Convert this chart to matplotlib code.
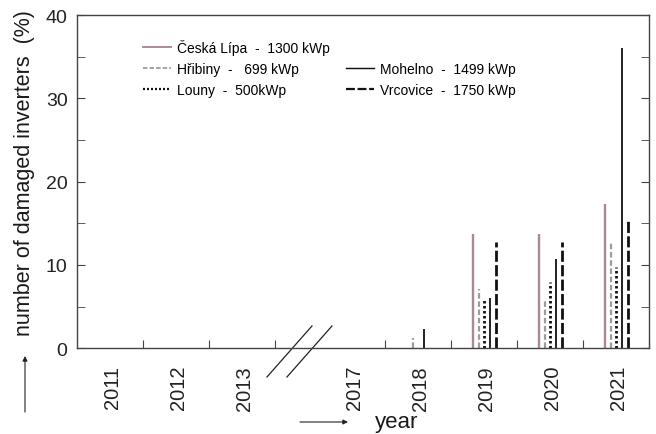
import numpy as np
import matplotlib
matplotlib.use("Agg")
import matplotlib.pyplot as plt
from matplotlib.lines import Line2D
from matplotlib.patches import FancyArrowPatch
from matplotlib.transforms import blended_transform_factory

plt.rcParams['font.family'] = ['Liberation Sans', 'DejaVu Sans']

# ====== data ======
years = ['2011', '2012', '2013', '2017', '2018', '2019', '2020', '2021']
ceska_lipa = [0, 0, 0, 0, 0.0, 13.7, 13.7, 17.3]
hribiny = [0, 0, 0, 0, 1.2, 7.1, 5.7, 12.6]
louny = [0, 0, 0, 0, 0.0, 6.0, 8.0, 9.7]
mohelno = [0, 0, 0, 0, 2.3, 6.0, 10.7, 36.0]
vrcovice = [0, 0, 0, 0, 0.0, 12.8, 12.8, 15.3]

series_labels = ['Česká Lípa  -  1300 kWp',
                 'Hřibiny  -   699 kWp',
                 'Louny  -  500kWp',
                 'Mohelno  -  1499 kWp',
                 'Vrcovice  -  1750 kWp']

# category axis with a broken gap between 2013 and 2017
gap = 0.667
xpos = np.array([0.5, 1.5, 2.5] + [3.5 + gap + i for i in range(5)])
bounds = [1, 2, 3] + [3 + gap + i for i in range(1, 6)]
xmax = 8 + gap

styles = [
    dict(color='#a88a90', lw=1.7, ls='-'),
    dict(color='#9c9c9c', lw=1.6, ls=(0, (2.5, 1.2))),
    dict(color='#111111', lw=2.0, ls=(0, (0.9, 0.9))),
    dict(color='#111111', lw=1.3, ls='-'),
    dict(color='#111111', lw=2.0, ls=(0, (4, 1.2))),
]
offsets = np.array([-2, -1, 0, 1, 2]) * 0.087

fig = plt.figure(figsize=(6.56, 4.35), dpi=100)
ax = fig.add_axes([0.1178, 0.197, 0.8720, 0.7662])

all_series = [ceska_lipa, hribiny, louny, mohelno, vrcovice]
handles = []
for vals, st, off, lab in zip(all_series, styles, offsets, series_labels):
    vals = np.array(vals, dtype=float)
    m = vals > 0
    ax.vlines(xpos[m] + off, 0, vals[m], colors=st['color'],
              linewidth=st['lw'], linestyles=[st['ls']])
    handles.append(Line2D([], [], color=st['color'], lw=st['lw'] * 0.8,
                          ls=st['ls'], label=lab))

ax.set_xlim(0, xmax)
ax.set_ylim(0, 40)

# y axis: ticks every 5, labels every 10, both sides, inward
ax.set_yticks(np.arange(0, 41, 10))
ax.set_yticks(np.arange(5, 40, 10), minor=True)
ax.tick_params(axis='y', which='both', direction='in', length=6,
               left=True, right=True, labelsize=14, pad=7,
               colors='#444444', labelcolor='#222222')

# x axis: ticks on category bounds, labels at centres
ax.set_xticks(bounds)
ax.set_xticklabels([])
ax.set_xticks(xpos + 0.04, minor=True)
ax.set_xticklabels(years, minor=True, rotation=90, fontsize=14.5,
                   color='#222222')
ax.tick_params(axis='x', which='major', direction='in', length=6,
               colors='#444444')
ax.tick_params(axis='x', which='minor', length=0, pad=12)

for sp in ax.spines.values():
    sp.set_color('#444444')
    sp.set_linewidth(1.0)

# axis break marks
tr = blended_transform_factory(ax.transData, ax.transAxes)
for x0, x1 in [(2.874, 3.556), (3.177, 3.859)]:
    ax.add_line(Line2D([x0, x1], [-0.086, 0.067], transform=tr,
                       color='#222222', lw=0.9, clip_on=False))

# legend: blank slot so Mohelno / Vrcovice sit on rows 2 and 3
blank = Line2D([], [], linestyle='none', label=' ')
leg_handles = handles[:3] + [blank] + handles[3:]
ax.legend(handles=leg_handles, labels=[h.get_label() for h in leg_handles],
          ncol=2, loc='upper left', bbox_to_anchor=(143 / 656, 1 - 40 / 435),
          bbox_transform=fig.transFigure, frameon=False, fontsize=10,
          handlelength=2.0, handletextpad=0.45, columnspacing=1.15,
          labelspacing=0.5, borderpad=0, borderaxespad=0)

# axis titles with arrows
fig.text(25 / 656, 1 - 173 / 435, 'number of damaged inverters  (%)',
         rotation=90, ha='center', va='center', fontsize=15.5, color='#1a1a1a')
fig.text(397 / 656, 1 - 423 / 435, 'year', ha='center', va='center',
         fontsize=16, color='#1a1a1a')
arrow = dict(arrowstyle='-|>', lw=0.8, color='#222222', mutation_scale=7,
             shrinkA=0, shrinkB=0)
fig.add_artist(FancyArrowPatch(
    (25 / 656, 1 - 413 / 435), (25 / 656, 1 - 357 / 435),
    transform=fig.transFigure, **arrow))
fig.add_artist(FancyArrowPatch(
    (300 / 656, 1 - 423 / 435), (348 / 656, 1 - 423 / 435),
    transform=fig.transFigure, **arrow))

fig.savefig('out.png', dpi=100)
